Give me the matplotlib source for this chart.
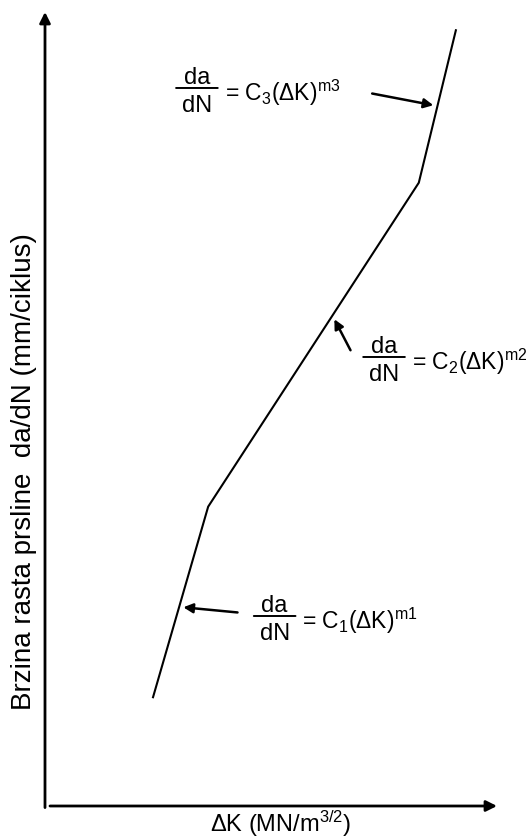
import numpy as np
import matplotlib
matplotlib.use('Agg')
import matplotlib.pyplot as plt

plt.rcParams['font.family'] = ['Liberation Sans', 'DejaVu Sans']
plt.rcParams['mathtext.fontset'] = 'custom'
plt.rcParams['mathtext.rm'] = 'Liberation Sans'
plt.rcParams['mathtext.it'] = 'Liberation Sans:italic'
plt.rcParams['mathtext.bf'] = 'Liberation Sans:bold'
plt.rcParams['mathtext.default'] = 'regular'

# three-region crack growth curve (schematic, arbitrary log units)
delta_k = [2.39, 3.61, 8.27, 9.09]
rate = [1.37, 3.77, 7.85, 9.77]

# Paris-type law for each region: da/dN = C_i (dK)^m_i
regions = ['1', '2', '3']

xlabel = r'$\Delta$K (MN/m$^{3/2}$)'
ylabel = 'Brzina rasta prsline  da/dN (mm/ciklus)'

fig = plt.figure(figsize=(5.29, 8.38), dpi=100)
ax = fig.add_axes([45 / 529, 1 - 806 / 838, 452 / 529, 794 / 838])
ax.set_xlim(0, 10)
ax.set_ylim(0, 10)
ax.axis('off')

ax.plot(delta_k, rate, color='black', lw=1.5, solid_joinstyle='miter')

# axes drawn as arrows
ax.annotate('', xy=(0, 1.0), xytext=(0, -0.002), xycoords='axes fraction',
            arrowprops=dict(arrowstyle='-|>', color='black', lw=2,
                            mutation_scale=16, shrinkA=0, shrinkB=0))
ax.annotate('', xy=(1.0, 0), xytext=(0.011, 0), xycoords='axes fraction',
            arrowprops=dict(arrowstyle='-|>', color='black', lw=2,
                            mutation_scale=16, shrinkA=0, shrinkB=0))

fig.text(281 / 529, 1 - 832 / 838, xlabel, ha='center', va='baseline', fontsize=17)
fig.text(31 / 529, 1 - 472 / 838, ylabel, ha='center', va='baseline',
         rotation=90, rotation_mode='anchor', fontsize=20)

# pointers from each equation to its segment
seg_t = [0.474, 0.59, 0.503]
tail_off = [(42, -4), (13, -25), (-47, 9)]
# left end of the fraction bar for each equation
eq_pos = [(4.62, 2.393), (7.04, 5.655), (2.90, 9.043)]
bar_len = 30      # points
eq_gap = 35       # points from bar start to '='

for i in range(3):
    x0, x1 = delta_k[i], delta_k[i + 1]
    y0, y1 = rate[i], rate[i + 1]
    t = seg_t[i]
    px = x0 + t * (x1 - x0)
    py = y0 + t * (y1 - y0)
    ax.annotate('', xy=(px, py), xytext=tail_off[i], textcoords='offset points',
                arrowprops=dict(arrowstyle='-|>', color='black', lw=1.8,
                                mutation_scale=14, shrinkA=0, shrinkB=3))

    ex, ey = eq_pos[i]
    # fraction da/dN
    ax.annotate('', xy=(ex, ey), xytext=(bar_len, 0), textcoords='offset points',
                arrowprops=dict(arrowstyle='-', color='black', lw=1.4,
                                shrinkA=0, shrinkB=0))
    ax.annotate('da', xy=(ex, ey), xytext=(bar_len / 2, 3),
                textcoords='offset points', ha='center', va='baseline',
                fontsize=17)
    ax.annotate('dN', xy=(ex, ey), xytext=(bar_len / 2, -5),
                textcoords='offset points', ha='center', va='top',
                fontsize=17)
    ax.annotate('= C$_{%s}$($\\Delta$K)$^{m%s}$' % (regions[i], regions[i]),
                xy=(ex, ey), xytext=(eq_gap, -9), textcoords='offset points',
                ha='left', va='baseline', fontsize=16.5)

fig.savefig('out.png', dpi=100)
